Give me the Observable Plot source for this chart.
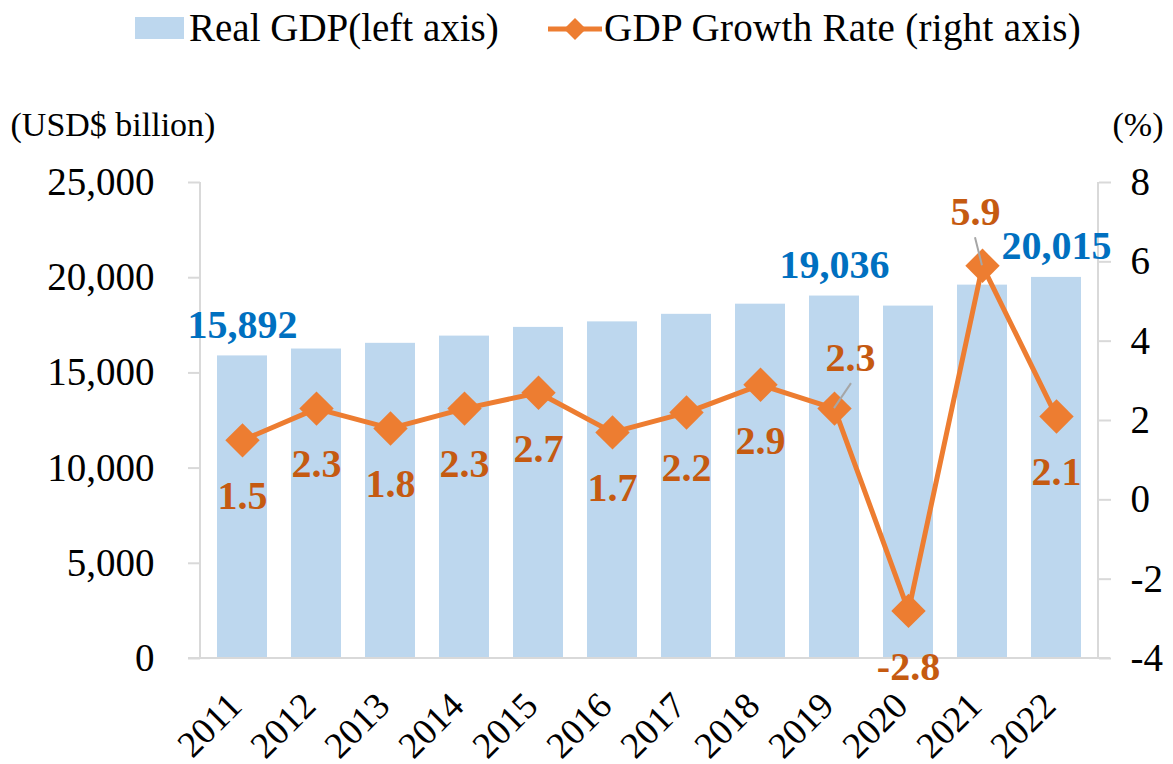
<!DOCTYPE html>
<html>
<head>
<meta charset="utf-8">
<script src="https://cdn.jsdelivr.net/npm/d3@7"></script>
<script src="https://cdn.jsdelivr.net/npm/@observablehq/plot@0.6"></script>
<style>
  html, body { margin: 0; padding: 0; background: #fff; }
  body { width: 1173px; height: 764px; overflow: hidden; font-family: "Liberation Serif", "Times New Roman", serif; }
  #legend { position: relative; height: 60px; font-size: 39px; line-height: 39px; color: #000; }
  #legend .item { position: absolute; white-space: nowrap; }
</style>
</head>
<body>
<div id="legend">
  <div style="position:absolute;left:135px;top:17px;width:49px;height:22px;background:#BDD7EE"></div>
  <span class="item" style="left:189px;top:8px">Real GDP(left axis)</span>
  <svg style="position:absolute;left:546px;top:14px" width="58" height="30">
    <line x1="2" y1="15" x2="56" y2="15" stroke="#ED7D31" stroke-width="5"/>
    <path d="M29,4 L40,15 L29,26 L18,15 Z" fill="#ED7D31"/>
  </svg>
  <span class="item" style="left:604px;top:8px;letter-spacing:0.3px">GDP Growth Rate (right axis)</span>
</div>
<div id="chart"></div>
<script>
// ---- data ----
const years = [2011, 2012, 2013, 2014, 2015, 2016, 2017, 2018, 2019, 2020, 2021, 2022];
const realGDP = [15892, 16254, 16553, 16932, 17390, 17680, 18076, 18609, 19036, 18509, 19610, 20015];
const growthRate = [1.5, 2.3, 1.8, 2.3, 2.7, 1.7, 2.2, 2.9, 2.3, -2.8, 5.9, 2.1];
const leftTicks = [0, 5000, 10000, 15000, 20000, 25000];
const rightTicks = [-4, -2, 0, 2, 4, 6, 8];
const gdpLabelYears = [2011, 2019, 2022];
const leftAxisTitle = "(USD$ billion)";
const rightAxisTitle = "(%)";

// ---- build ----
const data = years.map((year, i) => ({year: String(year), gdp: realGDP[i], growth: growthRate[i]}));
const [yMin, yMax] = d3.extent(leftTicks);
const [gMin, gMax] = d3.extent(rightTicks);
const toY = g => yMin + (g - gMin) / (gMax - gMin) * (yMax - yMin);
const fromY = v => gMin + (v - yMin) / (yMax - yMin) * (gMax - gMin);
const fmtGrowth = v => v.toFixed(1);           // plain hyphen for negatives
const fmtGDP = d3.format(",");

const FONT = "Liberation Serif";
const ORANGE = "#ED7D31";
const ORANGE_TEXT = "#C55A11";
const BLUE_TEXT = "#0070C0";
const BAR = "#BDD7EE";
const GRID = "#D9D9D9";

const W = 1173, H = 704;
const ML = 200, MR = 75, MT = 122, MB = 106;

// axis lines (left, right, baseline) drawn from the frame dimensions
function axisLines(index, scales, values, dims) {
  const {width, height, marginLeft, marginRight, marginTop, marginBottom} = dims;
  const g = d3.create("svg:g").attr("stroke", GRID).attr("stroke-width", 2);
  const x0 = marginLeft, x1 = width - marginRight, y0 = marginTop, y1 = height - marginBottom;
  g.append("line").attr("x1", x0).attr("x2", x0).attr("y1", y0).attr("y2", y1);
  g.append("line").attr("x1", x1).attr("x2", x1).attr("y1", y0).attr("y2", y1);
  g.append("line").attr("x1", x0 - 12).attr("x2", x1 + 12).attr("y1", y1).attr("y2", y1);
  return g.node();
}

// leader lines from offset labels to their markers
function leaders(index, scales) {
  const {x, y} = scales;
  const half = x.bandwidth ? x.bandwidth() / 2 : 0;
  const specs = [{year: "2019", dx: 17, dy: -25}, {year: "2021", dx: -7, dy: -28}];
  const g = d3.create("svg:g").attr("stroke", "#A6A6A6").attr("stroke-width", 2);
  for (const s of specs) {
    const d = data.find(d => d.year === s.year);
    const px = x(d.year) + half, py = y(toY(d.growth));
    g.append("line").attr("x1", px).attr("y1", py).attr("x2", px + s.dx).attr("y2", py + s.dy);
  }
  return g.node();
}

const textStyle = {fontFamily: FONT, fontSize: 40, fontWeight: "bold", lineAnchor: "middle", textAnchor: "middle"};

const chart = Plot.plot({
  width: W,
  height: H,
  marginLeft: ML,
  marginRight: MR,
  marginTop: MT,
  marginBottom: MB,
  style: {fontFamily: FONT, fontSize: "38px", color: "#000", background: "#fff", overflow: "visible"},
  x: {type: "band", domain: data.map(d => d.year), paddingInner: 0.33, paddingOuter: 0.165, label: null},
  y: {domain: [yMin, yMax], label: null},
  marks: [
    Plot.barY(data, {x: "year", y: "gdp", fill: BAR}),
    axisLines,
    Plot.axisY({anchor: "left", ticks: leftTicks, tickFormat: fmtGDP, tickSize: 12, tickPadding: 34,
      stroke: GRID, strokeWidth: 2, fill: "#000", fontSize: 39, label: null}),
    Plot.axisY({anchor: "right", ticks: rightTicks.map(toY), tickFormat: v => String(Math.round(fromY(v))),
      tickSize: 12, tickPadding: 20, stroke: GRID, strokeWidth: 2, fill: "#000", fontSize: 39, label: null}),
    Plot.axisX({anchor: "bottom", tickSize: 0, tickRotate: -45, tickPadding: 41, dx: -7, fill: "#000", fontSize: 37, label: null}),
    Plot.text([leftAxisTitle], {frameAnchor: "top-left", dx: -190, dy: -57, textAnchor: "start", lineAnchor: "middle", fontSize: 34, fill: "#000"}),
    Plot.text([rightAxisTitle], {frameAnchor: "top-right", dx: 14, dy: -57, textAnchor: "start", lineAnchor: "middle", fontSize: 34, fill: "#000"}),
    Plot.line(data, {x: "year", y: d => toY(d.growth), stroke: ORANGE, strokeWidth: 5}),
    Plot.dot(data, {x: "year", y: d => toY(d.growth), symbol: "diamond2", r: 15.5, fill: ORANGE, stroke: "none"}),
    leaders,
    Plot.text(data, {filter: d => gdpLabelYears.includes(+d.year), x: "year", y: "gdp", text: d => fmtGDP(d.gdp),
      dy: -31, fill: BLUE_TEXT, ...textStyle}),
    Plot.text(data, {filter: d => d.year !== "2019" && d.year !== "2021", x: "year", y: d => toY(d.growth),
      text: d => fmtGrowth(d.growth), dy: 56, fill: ORANGE_TEXT, ...textStyle}),
    Plot.text(data, {filter: d => d.year === "2019", x: "year", y: d => toY(d.growth),
      text: d => fmtGrowth(d.growth), dx: 16, dy: -50, fill: ORANGE_TEXT, ...textStyle}),
    Plot.text(data, {filter: d => d.year === "2021", x: "year", y: d => toY(d.growth),
      text: d => fmtGrowth(d.growth), dx: -7, dy: -54, fill: ORANGE_TEXT, ...textStyle})
  ]
});
document.getElementById("chart").appendChild(chart);
</script>
</body>
</html>
